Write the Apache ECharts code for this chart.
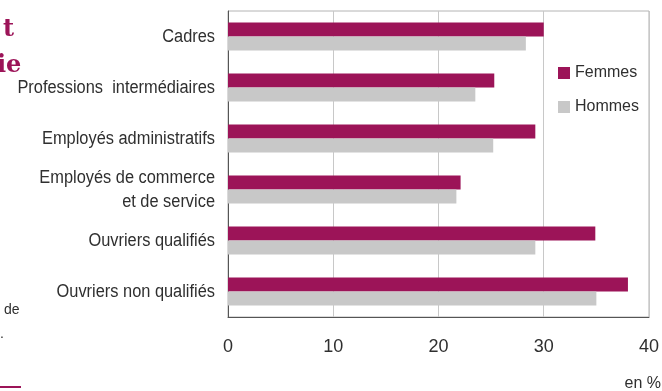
<!DOCTYPE html>
<html>
<head>
<meta charset="utf-8">
<script src="https://cdn.jsdelivr.net/npm/echarts@6/dist/echarts.min.js"></script>
<style>
  html, body { margin: 0; padding: 0; background: #fff; }
  #chart { width: 662px; height: 391px; }
</style>
</head>
<body>
<div id="chart"></div>
<script>
// Part de chaque catégorie socioprofessionnelle, femmes et hommes (en %)
const categories = [
  'Cadres',
  'Professions  intermédiaires',
  'Employés administratifs',
  'Employés de commerce\net de service',
  'Ouvriers qualifiés',
  'Ouvriers non qualifiés'
];
const femmes = [30.0, 25.3, 29.2, 22.1, 34.9, 38.0];
const hommes = [28.3, 23.5, 25.2, 21.7, 29.2, 35.0];
const xTicks = [0, 10, 20, 30, 40];

const FONT = '"Liberation Sans", Arial, sans-serif';
const MAROON = '#9c1458';
const GREY = '#c8c8c8';
const TEXT = '#2f2f2f';
const GRID_LEFT = 228;

const chart = echarts.init(document.getElementById('chart'), null, { renderer: 'canvas' });

const baseGraphics = [
  { type: 'text', right: 1, top: 376, style: { text: 'en %', font: '16px ' + FONT, fill: TEXT } },
  { type: 'text', left: 3, top: 18, style: { text: 't', font: 'bold 24px "DejaVu Serif", serif', fill: MAROON } },
  { type: 'text', left: -3, top: 54, style: { text: 'ie', font: 'bold 24px "DejaVu Serif", serif', fill: MAROON } },
  { type: 'text', left: 4, top: 303, style: { text: 'de', font: '14px ' + FONT, fill: TEXT } },
  { type: 'text', left: 0, top: 327, style: { text: '.', font: '14px ' + FONT, fill: TEXT } },
  { type: 'rect', shape: { x: 0, y: 386, width: 21, height: 2 }, style: { fill: MAROON } }
];

chart.setOption({
  animation: false,
  backgroundColor: '#fff',
  grid: { left: GRID_LEFT, right: 13, top: 11, bottom: 74, show: true, borderColor: '#b4b4b4', borderWidth: 1 },
  legend: {
    orient: 'vertical',
    left: 553, top: 60,
    itemWidth: 12, itemHeight: 12, itemGap: 18,
    icon: 'rect',
    textStyle: { fontFamily: FONT, fontSize: 16, color: TEXT },
    data: ['Femmes', 'Hommes']
  },
  xAxis: {
    type: 'value',
    min: xTicks[0], max: xTicks[xTicks.length - 1], interval: 10,
    axisLine: { show: true, lineStyle: { color: '#555' } },
    axisTick: { show: false },
    splitLine: { show: true, lineStyle: { color: '#c8c8c8', width: 1 } },
    axisLabel: { margin: 21, fontFamily: FONT, fontSize: 18, color: TEXT }
  },
  yAxis: {
    type: 'category',
    inverse: true,
    data: categories,
    axisLine: { show: true, lineStyle: { color: '#555' } },
    axisTick: { show: false },
    axisLabel: { show: false }
  },
  series: [
    { name: 'Femmes', type: 'bar', data: femmes, itemStyle: { color: MAROON },
      barGap: '0%', barCategoryGap: '45%' },
    { name: 'Hommes', type: 'bar', data: hommes, itemStyle: { color: GREY },
      barGap: '0%', barCategoryGap: '45%' }
  ],
  graphic: baseGraphics
});

// Category labels set in a condensed face: placed at each category's pixel row
const labelGraphics = categories.map(function (name, i) {
  const y = chart.convertToPixel({ yAxisIndex: 0 }, i);
  return {
    type: 'text',
    x: GRID_LEFT - 13,
    y: y + 1,
    scaleX: 0.91,
    style: {
      text: name,
      font: '18px ' + FONT,
      fill: TEXT,
      align: 'right',
      verticalAlign: 'middle',
      lineHeight: 24
    }
  };
});

chart.setOption({ graphic: baseGraphics.concat(labelGraphics) }, { replaceMerge: ['graphic'] });
</script>
</body>
</html>
